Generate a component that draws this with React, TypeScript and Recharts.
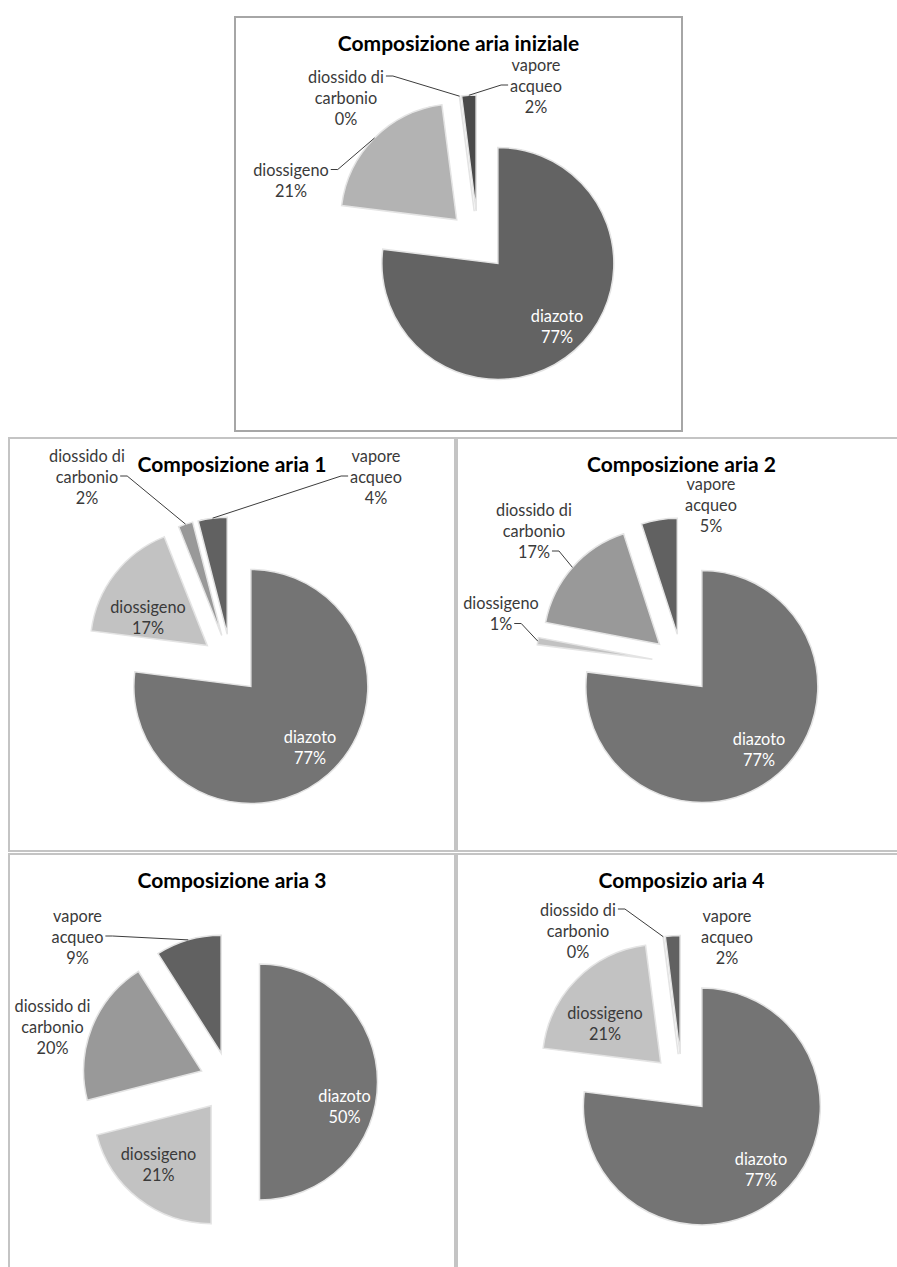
import React from 'react';
import { PieChart, Pie, Cell } from 'recharts';

const categories = ['diazoto', 'diossigeno', 'diossido di carbonio', 'vapore acqueo'];

// percentuali (0% di CO2 = 0.04)
const ariaIniziale = [77, 21, 0.04, 2];
const aria1 = [77, 17, 2, 4];
const aria2 = [77, 1, 17, 5];
const aria3 = [50, 21, 20, 9];
const aria4 = [77, 21, 0.04, 2];

const titoli = [
  'Composizione aria iniziale',
  'Composizione aria 1',
  'Composizione aria 2',
  'Composizione aria 3',
  'Composizio aria 4',
];

const FONT = 'Lato, "Open Sans", sans-serif';
const LABEL_SIZE = 16.3;
const TITLE_SIZE = 21;
const LINE_H = 21;
const EXPLODE = 30;
const RAD = Math.PI / 180;

const grigiIniziale = ['#636363', '#b3b3b3', '#8c8c8c', '#4a4a4a'];
const grigi = ['#747474', '#c2c2c2', '#999999', '#616161'];

type Leader = { side: 'left' | 'right'; line: number };
type LabelPos = { dx: number; dy: number; color?: string; leader?: Leader };
type PanelCfg = {
  title: string;
  values: number[];
  colors: string[];
  left: number;
  top: number;
  width: number;
  height: number;
  border: string;
  cx: number;
  cy: number;
  r: number;
  labels: LabelPos[];
};

const toRows = (values: number[]) => categories.map((name, i) => ({ name, value: values[i] }));

const wrap = (text: string, max = 11) => {
  const lines: string[] = [];
  let cur = '';
  text.split(' ').forEach((w) => {
    const next = cur ? cur + ' ' + w : w;
    if (next.length > max && cur) {
      lines.push(cur);
      cur = w;
    } else cur = next;
  });
  if (cur) lines.push(cur);
  return lines;
};

let ctx: CanvasRenderingContext2D | null = null;
const measure = (s: string) => {
  if (!ctx) ctx = document.createElement('canvas').getContext('2d');
  if (!ctx) return s.length * LABEL_SIZE * 0.5;
  ctx.font = `${LABEL_SIZE}px Lato`;
  return ctx.measureText(s).width;
};

const explodeOffsets = (values: number[]) => {
  const total = values.reduce((a, b) => a + b, 0);
  let acc = 0;
  return values.map((v) => {
    const mid = 90 - ((acc + v / 2) / total) * 360;
    acc += v;
    return { x: Math.cos(mid * RAD) * EXPLODE, y: -Math.sin(mid * RAD) * EXPLODE };
  });
};

const panels: PanelCfg[] = [
  {
    title: titoli[0], values: ariaIniziale, colors: grigiIniziale,
    left: 234, top: 16, width: 449, height: 416, border: '#a6a6a6',
    cx: 244, cy: 225, r: 116,
    labels: [
      { dx: 79, dy: 85, color: '#ffffff' },
      { dx: -187, dy: -61, leader: { side: 'right', line: 0 } },
      { dx: -132, dy: -144, leader: { side: 'right', line: 0 } },
      { dx: 58, dy: -156, leader: { side: 'left', line: 1 } },
    ],
  },
  {
    title: titoli[1], values: aria1, colors: grigi,
    left: 8, top: 437, width: 448, height: 415, border: '#c4c4c4',
    cx: 223, cy: 227, r: 117,
    labels: [
      { dx: 79, dy: 83, color: '#ffffff' },
      { dx: -83, dy: -47 },
      { dx: -144, dy: -188, leader: { side: 'right', line: 1 } },
      { dx: 145, dy: -188, leader: { side: 'left', line: 1 } },
    ],
  },
  {
    title: titoli[2], values: aria2, colors: grigi,
    left: 456, top: 437, width: 451, height: 415, border: '#c4c4c4',
    cx: 226, cy: 227, r: 116,
    labels: [
      { dx: 77, dy: 85, color: '#ffffff' },
      { dx: -181, dy: -51, leader: { side: 'right', line: 1 } },
      { dx: -148, dy: -134, leader: { side: 'right', line: 2 } },
      { dx: 29, dy: -160 },
    ],
  },
  {
    title: titoli[3], values: aria3, colors: grigi,
    left: 8, top: 853, width: 448, height: 420, border: '#c4c4c4',
    cx: 221.5, cy: 229, r: 118,
    labels: [
      { dx: 115, dy: 24, color: '#ffffff' },
      { dx: -71, dy: 82 },
      { dx: -177, dy: -56 },
      { dx: -152, dy: -146, leader: { side: 'right', line: 1 } },
    ],
  },
  {
    title: titoli[4], values: aria4, colors: grigi,
    left: 456, top: 853, width: 451, height: 420, border: '#c4c4c4',
    cx: 226, cy: 231, r: 118.5,
    labels: [
      { dx: 79, dy: 85, color: '#ffffff' },
      { dx: -77, dy: -61 },
      { dx: -104, dy: -154, leader: { side: 'right', line: 0 } },
      { dx: 45, dy: -148 },
    ],
  },
];

const makeLabel = (p: PanelCfg) => (props: any) => {
  const { cx, cy, index, percent, name, midAngle, outerRadius } = props;
  const lc = p.labels[index];
  if (!lc) return null;
  const lines = [...wrap(String(name)), `${Math.round(percent * 100)}%`];
  const bx = cx + lc.dx;
  const by = cy + lc.dy;
  const y0 = by - ((lines.length - 1) * LINE_H) / 2;
  let leader = null;
  if (lc.leader) {
    const ly = y0 + lc.leader.line * LINE_H;
    const w = measure(lines[lc.leader.line]);
    const sgn = lc.leader.side === 'right' ? 1 : -1;
    const sx = bx + sgn * (w / 2 + 2);
    const hx = sx + sgn * 7;
    const a = -midAngle * RAD;
    const tx = cx + Math.cos(a) * (EXPLODE + outerRadius);
    const ty = cy + Math.sin(a) * (EXPLODE + outerRadius);
    leader = (
      <polyline points={`${sx},${ly} ${hx},${ly} ${tx},${ty}`} fill="none" stroke="#3c3c3c" strokeWidth={1} />
    );
  }
  return (
    <g key={`lab-${index}`}>
      {leader}
      {lines.map((t, k) => (
        <text
          key={k}
          x={bx}
          y={y0 + k * LINE_H}
          textAnchor="middle"
          dominantBaseline="central"
          fontFamily={FONT}
          fontSize={LABEL_SIZE}
          fill={lc.color || '#3a3a3a'}
        >
          {t}
        </text>
      ))}
    </g>
  );
};

const Panel = ({ p }: { p: PanelCfg }) => {
  const offs = explodeOffsets(p.values);
  return (
    <div style={{ position: 'absolute', left: p.left, top: p.top, width: p.width, height: p.height }}>
      <div
        style={{
          position: 'absolute',
          inset: 0,
          border: `2px solid ${p.border}`,
          boxSizing: 'border-box',
        }}
      />
      <svg style={{ position: 'absolute', left: 0, top: 0 }} width={p.width} height={60}>
        <text
          x={p.width / 2}
          y={35}
          textAnchor="middle"
          fontFamily={FONT}
          fontWeight={700}
          fontSize={TITLE_SIZE}
          fill="#000"
        >
          {p.title}
        </text>
      </svg>
      <div style={{ position: 'absolute', left: 0, top: 0 }}>
        <PieChart width={p.width} height={p.height} margin={{ top: 0, right: 0, bottom: 0, left: 0 }}>
          <Pie
            data={toRows(p.values)}
            dataKey="value"
            nameKey="name"
            cx={p.cx}
            cy={p.cy}
            outerRadius={p.r}
            startAngle={90}
            endAngle={-270}
            stroke="#e4e4e4"
            strokeWidth={1.5}
            isAnimationActive={false}
            labelLine={false}
            label={makeLabel(p)}
          >
            {offs.map((o, i) => (
              <Cell key={i} fill={p.colors[i]} transform={`translate(${o.x.toFixed(2)},${o.y.toFixed(2)})`} />
            ))}
          </Pie>
        </PieChart>
      </div>
    </div>
  );
};

export default function App() {
  return (
    <div
      style={{
        position: 'fixed',
        left: 0,
        top: 0,
        width: 897,
        height: 1267,
        overflow: 'hidden',
        background: '#ffffff',
        fontFamily: FONT,
      }}
    >
      {panels.map((p, i) => (
        <Panel key={i} p={p} />
      ))}
    </div>
  );
}
